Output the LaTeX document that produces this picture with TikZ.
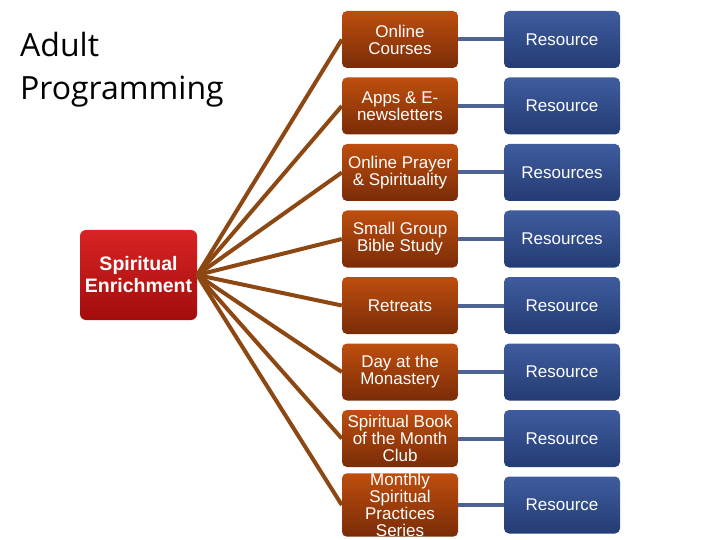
\documentclass[tikz,border=0pt]{standalone}
\usepackage{fontspec}
\setmainfont{Liberation Sans}
\newfontfamily\titlefont{Open Sans}
\usetikzlibrary{positioning}

\definecolor{rootTop}{HTML}{D82424}
\definecolor{rootBot}{HTML}{A30C0C}
\definecolor{progTop}{HTML}{BE4E0E}
\definecolor{progBot}{HTML}{7A2C08}
\definecolor{resTop}{HTML}{3F5C9E}
\definecolor{resBot}{HTML}{243C74}
\definecolor{fanBrown}{HTML}{8C4712}
\definecolor{linkBlue}{HTML}{4D6393}

\tikzset{
  rootbox/.style={rounded corners=6pt, top color=rootTop, bottom color=rootBot,
    text=white, align=center, inner sep=0pt, minimum width=117pt, minimum height=90pt,
    font=\fontsize{19.5}{22}\selectfont\bfseries},
  progbox/.style={rounded corners=5pt, top color=progTop, bottom color=progBot,
    text=white, align=center, inner sep=0pt, minimum width=116pt, minimum height=57pt,
    font=\fontsize{17}{17}\selectfont},
  resbox/.style={progbox, top color=resTop, bottom color=resBot},
  fanline/.style={draw=fanBrown, line width=4pt},
  reslink/.style={draw=linkBlue, line width=4pt}
}

\begin{document}
\begin{tikzpicture}[x=1pt,y=-1pt]
\useasboundingbox (0,0) rectangle (720,540);

% heading
\node[anchor=north west, align=left, inner sep=0pt,
  font=\titlefont\fontsize{32}{43}\selectfont] (title) at (20,32) {Adult\\Programming};

\node[rootbox] (root) at (138.5,275) {Spiritual\\Enrichment};

% programmes and their resources
\foreach \lbl/\res [count=\i] in {{Online\\Courses}/Resource,
    {Apps \& E-\\newsletters}/Resource,
    {Online Prayer\\\& Spirituality}/Resources,
    {Small Group\\Bible Study}/Resources,
    {Retreats}/Resource,
    {Day at the\\Monastery}/Resource,
    {Spiritual Book\\of the Month\\Club}/Resource,
    {Monthly\\Spiritual\\Practices\\Series}/Resource}
{
  \node[progbox] (prog\i) at (400,{39.5+66.5*(\i-1)}) {\lbl};
  \node[resbox] (res\i) at (562,{39.5+66.5*(\i-1)}) {\res};
  \draw[reslink] (prog\i.east) -- (res\i.west);
  \draw[fanline] (root.east) -- (prog\i.west);
}
\end{tikzpicture}
\end{document}
